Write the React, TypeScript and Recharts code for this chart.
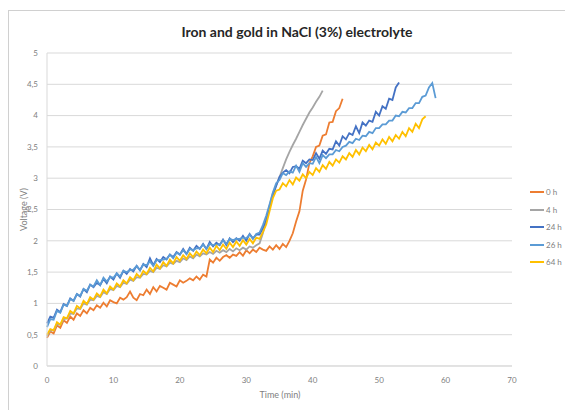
import { LineChart, Line, XAxis, YAxis, CartesianGrid } from "recharts";

// readings were logged every half minute
const SAMPLE_STEP = 0.5;

const seriesNames = ["0 h", "4 h", "24 h", "26 h", "64 h"];
const seriesColors = ["#ED7D31", "#A5A5A5", "#4472C4", "#5B9BD5", "#FFC000"];
const xTicks = [0, 10, 20, 30, 40, 50, 60, 70];
const yTicks = [0, 0.5, 1, 1.5, 2, 2.5, 3, 3.5, 4, 4.5, 5];

const volts0h = [
  0.45, 0.55, 0.52, 0.65, 0.61, 0.73, 0.69, 0.79, 0.74, 0.84,
  0.80, 0.89, 0.84, 0.93, 0.89, 0.97, 0.93, 1.01, 0.95, 1.05,
  1.02, 1.00, 1.09, 1.06, 1.10, 1.19, 1.09, 1.05, 1.15, 1.13,
  1.22, 1.15, 1.26, 1.19, 1.28, 1.25, 1.22, 1.33, 1.30, 1.27,
  1.37, 1.33, 1.36, 1.40, 1.37, 1.43, 1.38, 1.46, 1.43, 1.70,
  1.65, 1.73, 1.68, 1.74, 1.77, 1.73, 1.78, 1.76, 1.82, 1.76,
  1.85, 1.80, 1.86, 1.82, 1.89, 1.86, 1.84, 1.91, 1.86, 1.93,
  1.87, 1.95, 1.90, 2.00, 2.12, 2.31, 2.47, 2.80, 2.98, 3.24,
  3.35, 3.50, 3.52, 3.68, 3.70, 3.89, 3.90, 4.07, 4.12, 4.27,
];

const volts4h = [
  0.48, 0.57, 0.57, 0.67, 0.66, 0.75, 0.76, 0.84, 0.83, 0.92,
  0.91, 1.00, 0.98, 1.06, 1.05, 1.12, 1.10, 1.18, 1.15, 1.23,
  1.21, 1.28, 1.26, 1.33, 1.31, 1.38, 1.36, 1.42, 1.41, 1.47,
  1.46, 1.52, 1.50, 1.57, 1.55, 1.61, 1.59, 1.65, 1.63, 1.68,
  1.66, 1.72, 1.69, 1.75, 1.72, 1.78, 1.75, 1.80, 1.78, 1.82,
  1.79, 1.84, 1.81, 1.85, 1.82, 1.87, 1.83, 1.88, 1.85, 1.89,
  1.86, 1.91, 1.89, 1.93, 1.96, 2.12, 2.33, 2.56, 2.76, 2.88,
  3.02, 3.16, 3.30, 3.42, 3.53, 3.63, 3.74, 3.85, 3.95, 4.05,
  4.13, 4.22, 4.30, 4.40,
];

const volts24h = [
  0.68, 0.79, 0.77, 0.90, 0.86, 0.99, 0.96, 1.08, 1.04, 1.15,
  1.11, 1.23, 1.18, 1.30, 1.26, 1.33, 1.29, 1.39, 1.32, 1.43,
  1.38, 1.48, 1.41, 1.52, 1.47, 1.55, 1.51, 1.60, 1.53, 1.63,
  1.58, 1.72, 1.61, 1.71, 1.66, 1.74, 1.70, 1.78, 1.74, 1.82,
  1.78, 1.87, 1.79, 1.89, 1.84, 1.92, 1.87, 1.95, 1.87, 1.98,
  1.91, 1.97, 1.93, 2.02, 1.93, 2.04, 1.98, 2.04, 2.00, 2.08,
  2.00, 2.11, 2.04, 2.10, 2.10, 2.20, 2.33, 2.52, 2.72, 2.88,
  3.02, 3.09, 3.13, 3.08, 3.18, 3.19, 3.15, 3.28, 3.24, 3.30,
  3.29, 3.40, 3.31, 3.44, 3.39, 3.47, 3.46, 3.59, 3.52, 3.67,
  3.62, 3.72, 3.69, 3.83, 3.72, 3.89, 3.84, 3.92, 3.90, 4.06,
  4.00, 4.15, 4.11, 4.27, 4.25, 4.45, 4.53,
];

const volts26h = [
  0.62, 0.75, 0.74, 0.88, 0.85, 0.98, 0.96, 1.07, 1.04, 1.15,
  1.12, 1.23, 1.20, 1.30, 1.27, 1.37, 1.29, 1.41, 1.35, 1.42,
  1.41, 1.48, 1.43, 1.52, 1.50, 1.53, 1.54, 1.60, 1.53, 1.62,
  1.61, 1.67, 1.60, 1.69, 1.69, 1.70, 1.71, 1.78, 1.72, 1.81,
  1.78, 1.85, 1.79, 1.87, 1.85, 1.88, 1.88, 1.94, 1.87, 1.95,
  1.93, 1.94, 1.94, 2.01, 1.95, 2.03, 2.01, 2.03, 2.03, 2.05,
  2.04, 2.10, 2.03, 2.11, 2.13, 2.25, 2.40, 2.58, 2.77, 2.92,
  2.97, 3.08, 3.05, 3.11, 3.09, 3.20, 3.10, 3.24, 3.18, 3.24,
  3.23, 3.34, 3.24, 3.37, 3.32, 3.38, 3.38, 3.45, 3.43, 3.50,
  3.52, 3.58, 3.56, 3.63, 3.61, 3.68, 3.67, 3.74, 3.72, 3.80,
  3.80, 3.86, 3.86, 3.92, 3.92, 4.00, 3.99, 4.06, 4.05, 4.12,
  4.12, 4.20, 4.20, 4.30, 4.32, 4.45, 4.52, 4.28,
];

const volts64h = [
  0.50, 0.59, 0.57, 0.70, 0.66, 0.78, 0.76, 0.88, 0.84, 0.96,
  0.92, 1.04, 0.99, 1.10, 1.06, 1.16, 1.11, 1.22, 1.16, 1.27,
  1.22, 1.32, 1.27, 1.37, 1.32, 1.42, 1.37, 1.47, 1.42, 1.52,
  1.47, 1.57, 1.51, 1.62, 1.56, 1.66, 1.60, 1.70, 1.64, 1.74,
  1.68, 1.77, 1.71, 1.80, 1.74, 1.83, 1.77, 1.86, 1.80, 1.89,
  1.82, 1.92, 1.85, 1.94, 1.87, 1.97, 1.90, 1.99, 1.92, 2.01,
  1.94, 2.03, 1.96, 2.05, 2.03, 2.14, 2.26, 2.47, 2.68, 2.80,
  2.82, 2.92, 2.87, 2.97, 2.90, 3.01, 2.96, 3.06, 3.00, 3.10,
  3.05, 3.16, 3.10, 3.21, 3.15, 3.26, 3.20, 3.30, 3.25, 3.35,
  3.30, 3.40, 3.34, 3.45, 3.38, 3.49, 3.43, 3.53, 3.46, 3.57,
  3.52, 3.62, 3.55, 3.66, 3.59, 3.69, 3.63, 3.74, 3.67, 3.80,
  3.74, 3.87, 3.80, 3.94, 3.99,
];

const seriesValues = [volts0h, volts4h, volts24h, volts26h, volts64h];

const toPoints = (values: number[]) =>
  values.map((v, i) => ({ t: i * SAMPLE_STEP, v }));

const FONT = "Lato, 'Open Sans', sans-serif";
const tickStyle = { fontSize: 8, fill: "#808080", fontFamily: FONT };

export default function App() {
  return (
    <div
      style={{
        position: "absolute",
        left: 0,
        top: 0,
        width: 565,
        height: 410,
        background: "#fff",
        overflow: "hidden",
        fontFamily: FONT,
      }}
    >
      <div
        style={{
          position: "absolute",
          left: 8,
          top: 10,
          width: 600,
          height: 450,
          border: "1px solid #d0d0d0",
        }}
      />
      <div
        style={{
          position: "absolute",
          left: 0,
          width: 594,
          top: 23,
          textAlign: "center",
          fontSize: 14,
          fontWeight: 700,
          color: "#262626",
        }}
      >
        Iron and gold in NaCl (3%) electrolyte
      </div>
      <LineChart
        width={565}
        height={410}
        margin={{ top: 53, right: 53, bottom: 14, left: 0 }}
      >
        <CartesianGrid vertical={false} stroke="#d9d9d9" />
        <XAxis
          type="number"
          dataKey="t"
          domain={[0, 70]}
          ticks={xTicks}
          height={30}
          tickLine={false}
          tickMargin={5}
          axisLine={{ stroke: "#d9d9d9" }}
          tick={tickStyle}
        />
        <YAxis
          type="number"
          domain={[0, 5]}
          ticks={yTicks}
          width={47}
          tickLine={false}
          tickMargin={3}
          axisLine={{ stroke: "#d9d9d9" }}
          tick={tickStyle}
          tickFormatter={(v: number) => String(v).replace(".", ",")}
        />
        {seriesValues.map((values, i) => (
          <Line
            key={seriesNames[i]}
            data={toPoints(values)}
            dataKey="v"
            name={seriesNames[i]}
            stroke={seriesColors[i]}
            strokeWidth={1.8}
            dot={false}
            type="linear"
            isAnimationActive={false}
          />
        ))}
      </LineChart>
      <div
        style={{
          position: "absolute",
          left: 230,
          width: 100,
          top: 389,
          textAlign: "center",
          fontSize: 9,
          color: "#808080",
        }}
      >
        Time (min)
      </div>
      <div
        style={{
          position: "absolute",
          left: -27,
          width: 100,
          top: 204,
          textAlign: "center",
          fontSize: 9,
          color: "#808080",
          transform: "rotate(-90deg)",
        }}
      >
        Voltage (V)
      </div>
      {seriesNames.map((name, i) => (
        <div
          key={name}
          style={{
            position: "absolute",
            left: 530,
            top: 187 + i * 17.6,
            display: "flex",
            alignItems: "center",
            fontSize: 8,
            color: "#808080",
            height: 10,
          }}
        >
          <span
            style={{
              display: "inline-block",
              width: 14,
              height: 2,
              background: seriesColors[i],
              marginRight: 2,
            }}
          />
          {name}
        </div>
      ))}
    </div>
  );
}
